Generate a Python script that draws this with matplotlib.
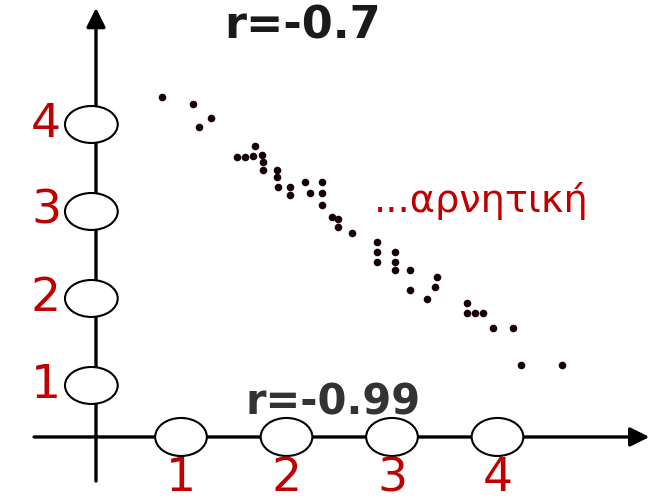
import matplotlib.pyplot as plt
from matplotlib.patches import Ellipse

# scatter cloud (negative correlation)
xs = [0.82, 1.11, 1.28, 1.17, 1.70, 1.53, 1.61, 1.68, 1.77, 1.78, 1.78,
      1.91, 1.91, 1.92, 2.03, 2.03, 2.18, 2.34, 2.22, 2.34, 2.34, 2.43,
      2.49, 2.49, 2.62, 2.86, 2.86, 2.86, 3.03, 3.03, 3.03, 3.17, 3.43,
      3.41, 3.17, 3.33, 3.71, 3.71, 3.79, 3.86, 3.96, 4.15, 4.22, 4.61]
ys = [4.32, 4.24, 4.07, 3.97, 3.75, 3.63, 3.63, 3.64, 3.65, 3.57, 3.48,
      3.48, 3.40, 3.28, 3.28, 3.19, 3.34, 3.34, 3.21, 3.21, 3.07, 2.94,
      2.91, 2.82, 2.75, 2.65, 2.53, 2.42, 2.53, 2.42, 2.33, 2.33, 2.25,
      2.13, 2.10, 1.99, 1.95, 1.83, 1.83, 1.83, 1.66, 1.66, 1.24, 1.24]

ticks = [1, 2, 3, 4]
tick_labels = ['1', '2', '3', '4']

x0, y0 = 0.194, 0.408          # where the two axes cross
red = '#c00000'

fig = plt.figure(figsize=(6.67, 4.99), dpi=100)
ax = fig.add_axes([0, 0, 1, 1])
ax.set_xlim(-0.716, 5.607)
ax.set_ylim(-0.305, 5.431)
ax.axis('off')

# axes with arrow heads
arrow = dict(arrowstyle='-|>,head_length=1.0,head_width=0.5', lw=2.4,
             color='black', mutation_scale=11.5, shrinkA=0, shrinkB=0)
ax.annotate('', xy=(5.44, y0), xytext=(-0.393, y0), arrowprops=arrow, zorder=2)
ax.annotate('', xy=(x0, 5.34), xytext=(x0, -0.098), arrowprops=arrow, zorder=2)

# tick "beads" on both axes
for t in ticks:
    ax.add_patch(Ellipse((t, y0), 0.49, 0.437, facecolor='white',
                         edgecolor='black', lw=1.5, zorder=3))
    ax.add_patch(Ellipse((0.15, t), 0.50, 0.425, facecolor='white',
                         edgecolor='black', lw=1.5, zorder=3))

for t, lab in zip(ticks, tick_labels):
    ax.text(t, -0.215, lab, color=red, fontsize=34, ha='center', va='baseline')
    ax.text(-0.28, t, lab, color=red, fontsize=34, ha='center', va='center')

ax.scatter(xs, ys, s=30, marker='o', color='#150005', linewidths=0, zorder=4)

ax.text(2.15, 5.13, 'r=-0.7', fontsize=32, fontweight='bold',
        color='#1a1a1a', ha='center', va='center', zorder=1)
ax.text(2.44, 0.81, 'r=-0.99', fontsize=30, fontweight='bold',
        color='#333333', ha='center', va='center', zorder=1)
ax.text(3.85, 2.99, '...αρνητική', fontsize=27.5, color=red,
        ha='center', va='baseline')

fig.savefig('out.png', dpi=100)
